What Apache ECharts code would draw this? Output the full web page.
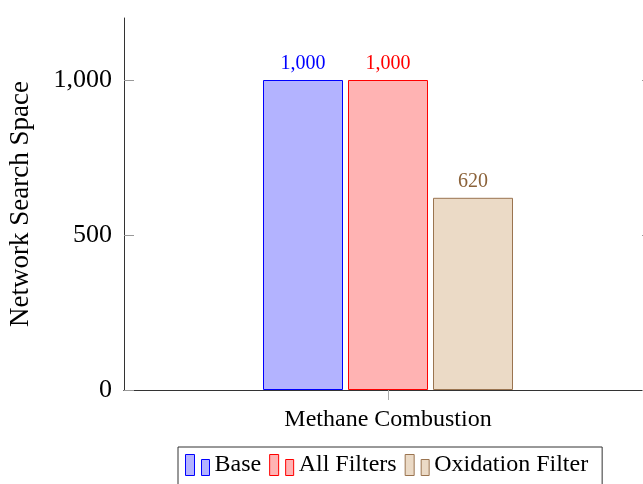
<!DOCTYPE html>
<html>
<head>
<meta charset="utf-8">
<script src="https://cdn.jsdelivr.net/npm/echarts@6/dist/echarts.min.js"></script>
<style>
  html, body { margin: 0; padding: 0; background: #fff; }
  #chart { width: 643px; height: 484px; }
</style>
</head>
<body>
<div id="chart"></div>
<script>
// Search-space size for the methane combustion network under each filter setting
const categories = ['Methane Combustion'];
const seriesNames = ['Base', 'All Filters', 'Oxidation Filter'];
const baseValues = [1000];
const allFiltersValues = [1000];
const oxidationValues = [620];
const yTicks = [0, 500, 1000];

const serif = 'Liberation Serif';
const fills = ['#b3b3ff', '#ffb3b3', '#ebdac6'];
const strokes = ['#0000ff', '#ff0000', '#9a7450'];
const labelColors = ['#0000ff', '#ff0000', '#8b6239'];
const valueSets = [baseValues, allFiltersValues, oxidationValues];

// Legend glyph: a tall bar next to a shorter one
const legendIcon = 'path://M0,0H9V21H0Z M16,5H24V21H16Z';

const fmt = v => v.toLocaleString('en-US');

const chart = echarts.init(document.getElementById('chart'), null, { renderer: 'canvas' });

const series = seriesNames.map((name, i) => ({
  name,
  type: 'bar',
  data: valueSets[i],
  barWidth: 80,
  barGap: '6.25%',
  itemStyle: { color: fills[i], borderColor: strokes[i], borderWidth: 1 },
  label: {
    show: true,
    position: 'top',
    distance: 6,
    formatter: p => fmt(p.value),
    color: labelColors[i],
    fontFamily: serif,
    fontSize: 20
  },
  emphasis: { disabled: true },
  animation: false
}));

chart.setOption({
  animation: false,
  grid: { left: 124, top: 18, right: -9, bottom: 94, containLabel: false, outerBoundsMode: 'none' },
  legend: {
    left: 178,
    top: 447,
    data: seriesNames.map(n => ({ name: n, icon: legendIcon })),
    itemWidth: 24,
    itemHeight: 21,
    itemGap: 8,
    padding: [6, 14, 14, 7],
    borderColor: '#333',
    borderWidth: 1,
    itemStyle: { borderWidth: 1 },
    textStyle: { fontFamily: serif, fontSize: 24, color: '#000', padding: [0, 0, 0, 0] }
  },
  xAxis: [
    {
      type: 'category',
      data: categories,
      position: 'bottom',
      axisLine: { lineStyle: { color: '#000', width: 1 } },
      axisTick: { show: true, inside: false, length: 10, alignWithLabel: true, lineStyle: { color: '#aaa' } },
      axisLabel: { fontFamily: serif, fontSize: 24, color: '#000', margin: 18 }
    },
    {
      type: 'category',
      data: categories,
      position: 'top',
      axisLine: { lineStyle: { color: '#333', width: 1 } },
      axisTick: { show: true, inside: false, length: 10, alignWithLabel: true, lineStyle: { color: '#aaa' } },
      axisLabel: { show: false }
    }
  ],
  yAxis: [
    {
      type: 'value',
      min: 0,
      max: 1200,
      position: 'left',
      name: 'Network Search Space',
      nameLocation: 'middle',
      nameGap: 90,
      nameRotate: 90,
      nameTextStyle: { fontFamily: serif, fontSize: 27, color: '#000' },
      axisLine: { show: true, lineStyle: { color: '#333', width: 1 } },
      axisTick: { show: true, inside: true, length: 10, customValues: yTicks, lineStyle: { color: '#999' } },
      axisLabel: { fontFamily: serif, fontSize: 26, color: '#000', margin: 12, customValues: yTicks, formatter: v => fmt(v) },
      splitLine: { show: false }
    },
    {
      type: 'value',
      min: 0,
      max: 1200,
      position: 'right',
      axisLine: { show: true, lineStyle: { color: '#333', width: 1 } },
      axisTick: { show: true, inside: true, length: 10, customValues: yTicks, lineStyle: { color: '#999' } },
      axisLabel: { show: false },
      splitLine: { show: false }
    }
  ],
  series
});
</script>
</body>
</html>
